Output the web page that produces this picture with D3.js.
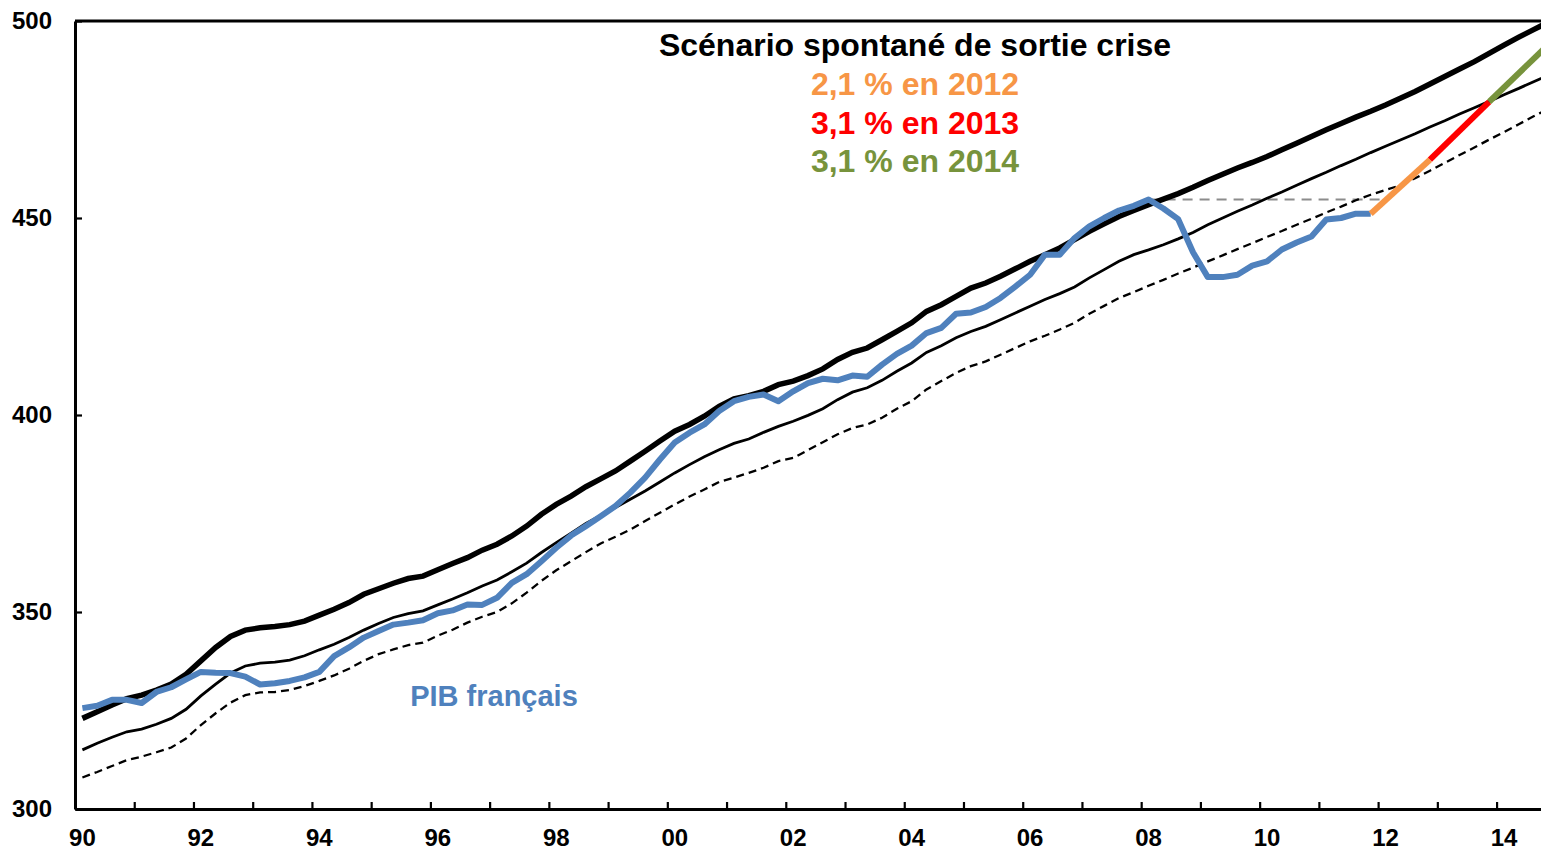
<!DOCTYPE html>
<html lang="fr">
<head>
  <meta charset="UTF-8">
  <title>Scénario spontané de sortie crise</title>
  <script src="https://d3js.org/d3.v7.min.js"></script>
  <style>
    body { margin: 0; background: #fff; }
    text { font-family: "Liberation Sans", Arial, sans-serif; font-weight: bold; }
  </style>
</head>
<body>
<div id="chart"></div>

<script>
// Données trimestrielles, 1990T1 = indice 0
const startYear = 1990;

// PIB français (1990T1 -> 2011T4)
const pibFrancais = [
  325.6, 326.2, 327.7, 327.7, 326.9, 329.7, 330.9, 332.9, 334.8, 334.6,
  334.5, 333.6, 331.6, 331.9, 332.5, 333.4, 334.8, 338.8, 341.0, 343.5,
  345.2, 346.8, 347.3, 347.9, 349.7, 350.4, 351.9, 351.8, 353.6, 357.4,
  359.6, 362.9, 366.3, 369.4, 371.8, 374.3, 376.9, 380.3, 384.1, 388.7,
  393.0, 395.5, 397.6, 401.0, 403.5, 404.6, 405.2, 403.5, 406.0, 408.1,
  409.2, 408.8, 410.0, 409.7, 412.8, 415.5, 417.6, 420.8, 422.1, 425.7,
  426.0, 427.4, 429.7, 432.6, 435.6, 440.7, 440.7, 444.9, 447.9, 450.0,
  451.9, 453.1, 454.7, 452.4, 449.7, 441.3, 435.0, 435.0, 435.6, 437.9,
  439.0, 442.0, 443.8, 445.3, 449.6, 450.0, 451.1, 451.1
];

// tendance haute (trait épais)
const tendanceHaute = [
  323.0, 324.7, 326.4, 328.0, 328.9, 330.2, 331.7, 334.2, 337.6, 341.0,
  343.8, 345.4, 346.0, 346.3, 346.8, 347.7, 349.2, 350.7, 352.4, 354.5,
  355.9, 357.3, 358.5, 359.1, 360.7, 362.3, 363.8, 365.7, 367.2, 369.3,
  371.8, 374.8, 377.3, 379.4, 381.8, 383.8, 385.8, 388.3, 390.8, 393.4,
  395.9, 397.6, 399.7, 402.2, 404.1, 404.9, 406.0, 407.7, 408.6, 410.0,
  411.7, 414.1, 415.9, 417.0, 419.1, 421.2, 423.4, 426.3, 428.0, 430.1,
  432.2, 433.5, 435.2, 437.1, 439.0, 440.7, 442.4, 444.5, 446.6, 448.5,
  450.4, 451.9, 453.4, 454.8, 456.2, 457.8, 459.5, 461.1, 462.7, 464.1,
  465.6, 467.3, 469.0, 470.7, 472.4, 474.0, 475.6, 477.1, 478.7, 480.4,
  482.1, 484.0, 485.9, 487.8, 489.7, 491.8, 493.9, 495.9, 497.8, 499.7
];

// tendance centrale (trait fin)
const tendanceCentrale = [
  315.0, 316.7, 318.2, 319.6, 320.3, 321.5, 323.0, 325.3, 328.7, 331.7,
  334.5, 336.3, 337.0, 337.3, 337.8, 338.9, 340.4, 341.8, 343.5, 345.4,
  347.1, 348.6, 349.6, 350.3, 351.8, 353.3, 354.9, 356.6, 358.1, 360.2,
  362.4, 365.1, 367.6, 370.0, 372.5, 374.5, 376.5, 378.6, 380.7, 383.0,
  385.3, 387.4, 389.4, 391.2, 392.8, 393.9, 395.6, 397.1, 398.4, 399.9,
  401.6, 403.9, 405.8, 406.9, 408.8, 411.1, 413.2, 415.9, 417.6, 419.6,
  421.2, 422.5, 424.2, 425.9, 427.6, 429.3, 430.8, 432.5, 434.8, 436.9,
  439.0, 440.7, 441.9, 443.2, 444.7, 446.3, 448.3, 450.0, 451.7, 453.3,
  455.0, 456.6, 458.3, 460.0, 461.6, 463.3, 464.9, 466.6, 468.2, 469.8,
  471.4, 473.1, 474.7, 476.4, 478.0, 479.6, 481.3, 482.9, 484.6, 486.2
];

// tendance basse (pointillés)
const tendanceBasse = [
  308.0, 309.4, 310.9, 312.4, 313.3, 314.4, 315.6, 317.9, 321.3, 324.3,
  327.0, 328.9, 329.6, 329.7, 330.2, 331.2, 332.5, 333.9, 335.6, 337.6,
  339.3, 340.5, 341.6, 342.2, 344.0, 345.5, 347.3, 348.8, 350.0, 352.2,
  354.9, 357.9, 360.6, 362.9, 365.2, 367.4, 369.1, 370.9, 373.1, 375.2,
  377.3, 379.3, 381.1, 383.0, 384.1, 385.3, 386.6, 388.3, 389.1, 391.1,
  393.1, 395.1, 396.7, 397.6, 399.3, 401.6, 403.5, 406.5, 408.6, 410.7,
  412.4, 413.6, 415.3, 417.0, 418.7, 420.1, 421.7, 423.4, 425.7, 427.7,
  429.7, 431.2, 432.8, 434.3, 435.9, 437.4, 439.0, 440.5, 442.1, 443.6,
  445.2, 446.7, 448.3, 449.8, 451.4, 452.9, 454.5, 455.9, 457.1, 458.3,
  460.1, 462.0, 464.0, 466.0, 467.9, 469.9, 471.8, 473.8, 475.8, 477.7
];

// scénario : 2011T4, 2012T4, 2013T4, 2014T4
const scenarioQuarters = [87, 91, 95, 99];
const scenarioValues = [451.1, 464.8, 479.5, 494.0];
const scenarioColors = ["#F79646", "#FF0000", "#77933C"];
const scenarioLabels = ["2,1 % en 2012", "3,1 % en 2013", "3,1 % en 2014"];

// niveau du pic de 2008T1, prolongé jusqu'en 2012T1
const peakQuarters = [72, 88];
const peakValue = 454.7;

const yTicks = [300, 350, 400, 450, 500];
const xLabels = ["90", "92", "94", "96", "98", "00", "02", "04", "06", "08", "10", "12", "14"];

const width = 1541, height = 851;
const plotLeft = 75, plotRight = 1541, plotTop = 21, plotBottom = 809;

const svg = d3.select("#chart").append("svg")
  .attr("width", width)
  .attr("height", height);

// temps en années ; chaque point au centre de son trimestre
const x = d3.scaleLinear().domain([startYear, startYear + 99 / 4]).range([plotLeft, plotRight]);
const y = d3.scaleLinear().domain([300, 500]).range([plotBottom, plotTop]);
const qx = i => x(startYear + i / 4 + 0.125);

const line = d3.line()
  .x(d => qx(d[0]))
  .y(d => y(d[1]));

const withIndex = arr => arr.map((v, i) => [i, v]);

// ligne grise du pic
svg.append("path")
  .attr("d", line(peakQuarters.map(q => [q, peakValue])))
  .attr("fill", "none")
  .attr("stroke", "#8c8c8c")
  .attr("stroke-width", 2)
  .attr("stroke-dasharray", "10,7");

svg.append("path")
  .attr("d", line(withIndex(tendanceBasse)))
  .attr("fill", "none")
  .attr("stroke", "#000")
  .attr("stroke-width", 2.3)
  .attr("stroke-dasharray", "8,5");

svg.append("path")
  .attr("d", line(withIndex(tendanceCentrale)))
  .attr("fill", "none")
  .attr("stroke", "#000")
  .attr("stroke-width", 2.8);

svg.append("path")
  .attr("d", line(withIndex(tendanceHaute)))
  .attr("fill", "none")
  .attr("stroke", "#000")
  .attr("stroke-width", 5.5);

svg.append("path")
  .attr("d", line(withIndex(pibFrancais)))
  .attr("fill", "none")
  .attr("stroke", "#4F81BD")
  .attr("stroke-width", 6)
  .attr("stroke-linejoin", "round");

scenarioColors.forEach((c, k) => {
  svg.append("path")
    .attr("d", line([[scenarioQuarters[k], scenarioValues[k]], [scenarioQuarters[k + 1], scenarioValues[k + 1]]]))
    .attr("fill", "none")
    .attr("stroke", c)
    .attr("stroke-width", 6);
});

// axes
const yAxis = d3.axisLeft(y).tickValues(yTicks).tickSize(-7).tickSizeOuter(0).tickPadding(23);
const gy = svg.append("g").attr("transform", `translate(${plotLeft},0)`).call(yAxis);

const yearTicks = d3.range(startYear + 1, startYear + 25);
const xAxis = d3.axisBottom(x).tickValues(yearTicks).tickSize(-7).tickSizeOuter(0).tickFormat("");
const gx = svg.append("g").attr("transform", `translate(0,${plotBottom})`).call(xAxis);

[gx, gy].forEach(g => {
  g.select(".domain").attr("stroke", "#000").attr("stroke-width", 3);
  g.selectAll(".tick line").attr("stroke", "#000").attr("stroke-width", 2.2);
  g.selectAll("text")
    .attr("fill", "#000")
    .style("font-family", '"Liberation Sans", Arial, sans-serif')
    .style("font-weight", "bold")
    .style("font-size", "24px");
});

svg.append("line")
  .attr("x1", plotLeft).attr("x2", plotRight)
  .attr("y1", plotTop).attr("y2", plotTop)
  .attr("stroke", "#000").attr("stroke-width", 3);

svg.append("g").selectAll("text")
  .data(xLabels)
  .join("text")
  .attr("x", (d, i) => x(startYear + 2 * i + 0.125))
  .attr("y", 846)
  .attr("text-anchor", "middle")
  .style("font-size", "24px")
  .text(d => d);

// textes
svg.append("text")
  .attr("x", 915).attr("y", 56)
  .attr("text-anchor", "middle")
  .style("font-size", "32px")
  .attr("fill", "#000")
  .text("Scénario spontané de sortie crise");

scenarioLabels.forEach((t, k) => {
  svg.append("text")
    .attr("x", 915).attr("y", 95 + k * 38.5)
    .attr("text-anchor", "middle")
    .style("font-size", "32px")
    .attr("fill", scenarioColors[k])
    .text(t);
});

svg.append("text")
  .attr("x", 494).attr("y", 706)
  .attr("text-anchor", "middle")
  .style("font-size", "29px")
  .attr("fill", "#4F81BD")
  .text("PIB français");
</script>
</body>
</html>
